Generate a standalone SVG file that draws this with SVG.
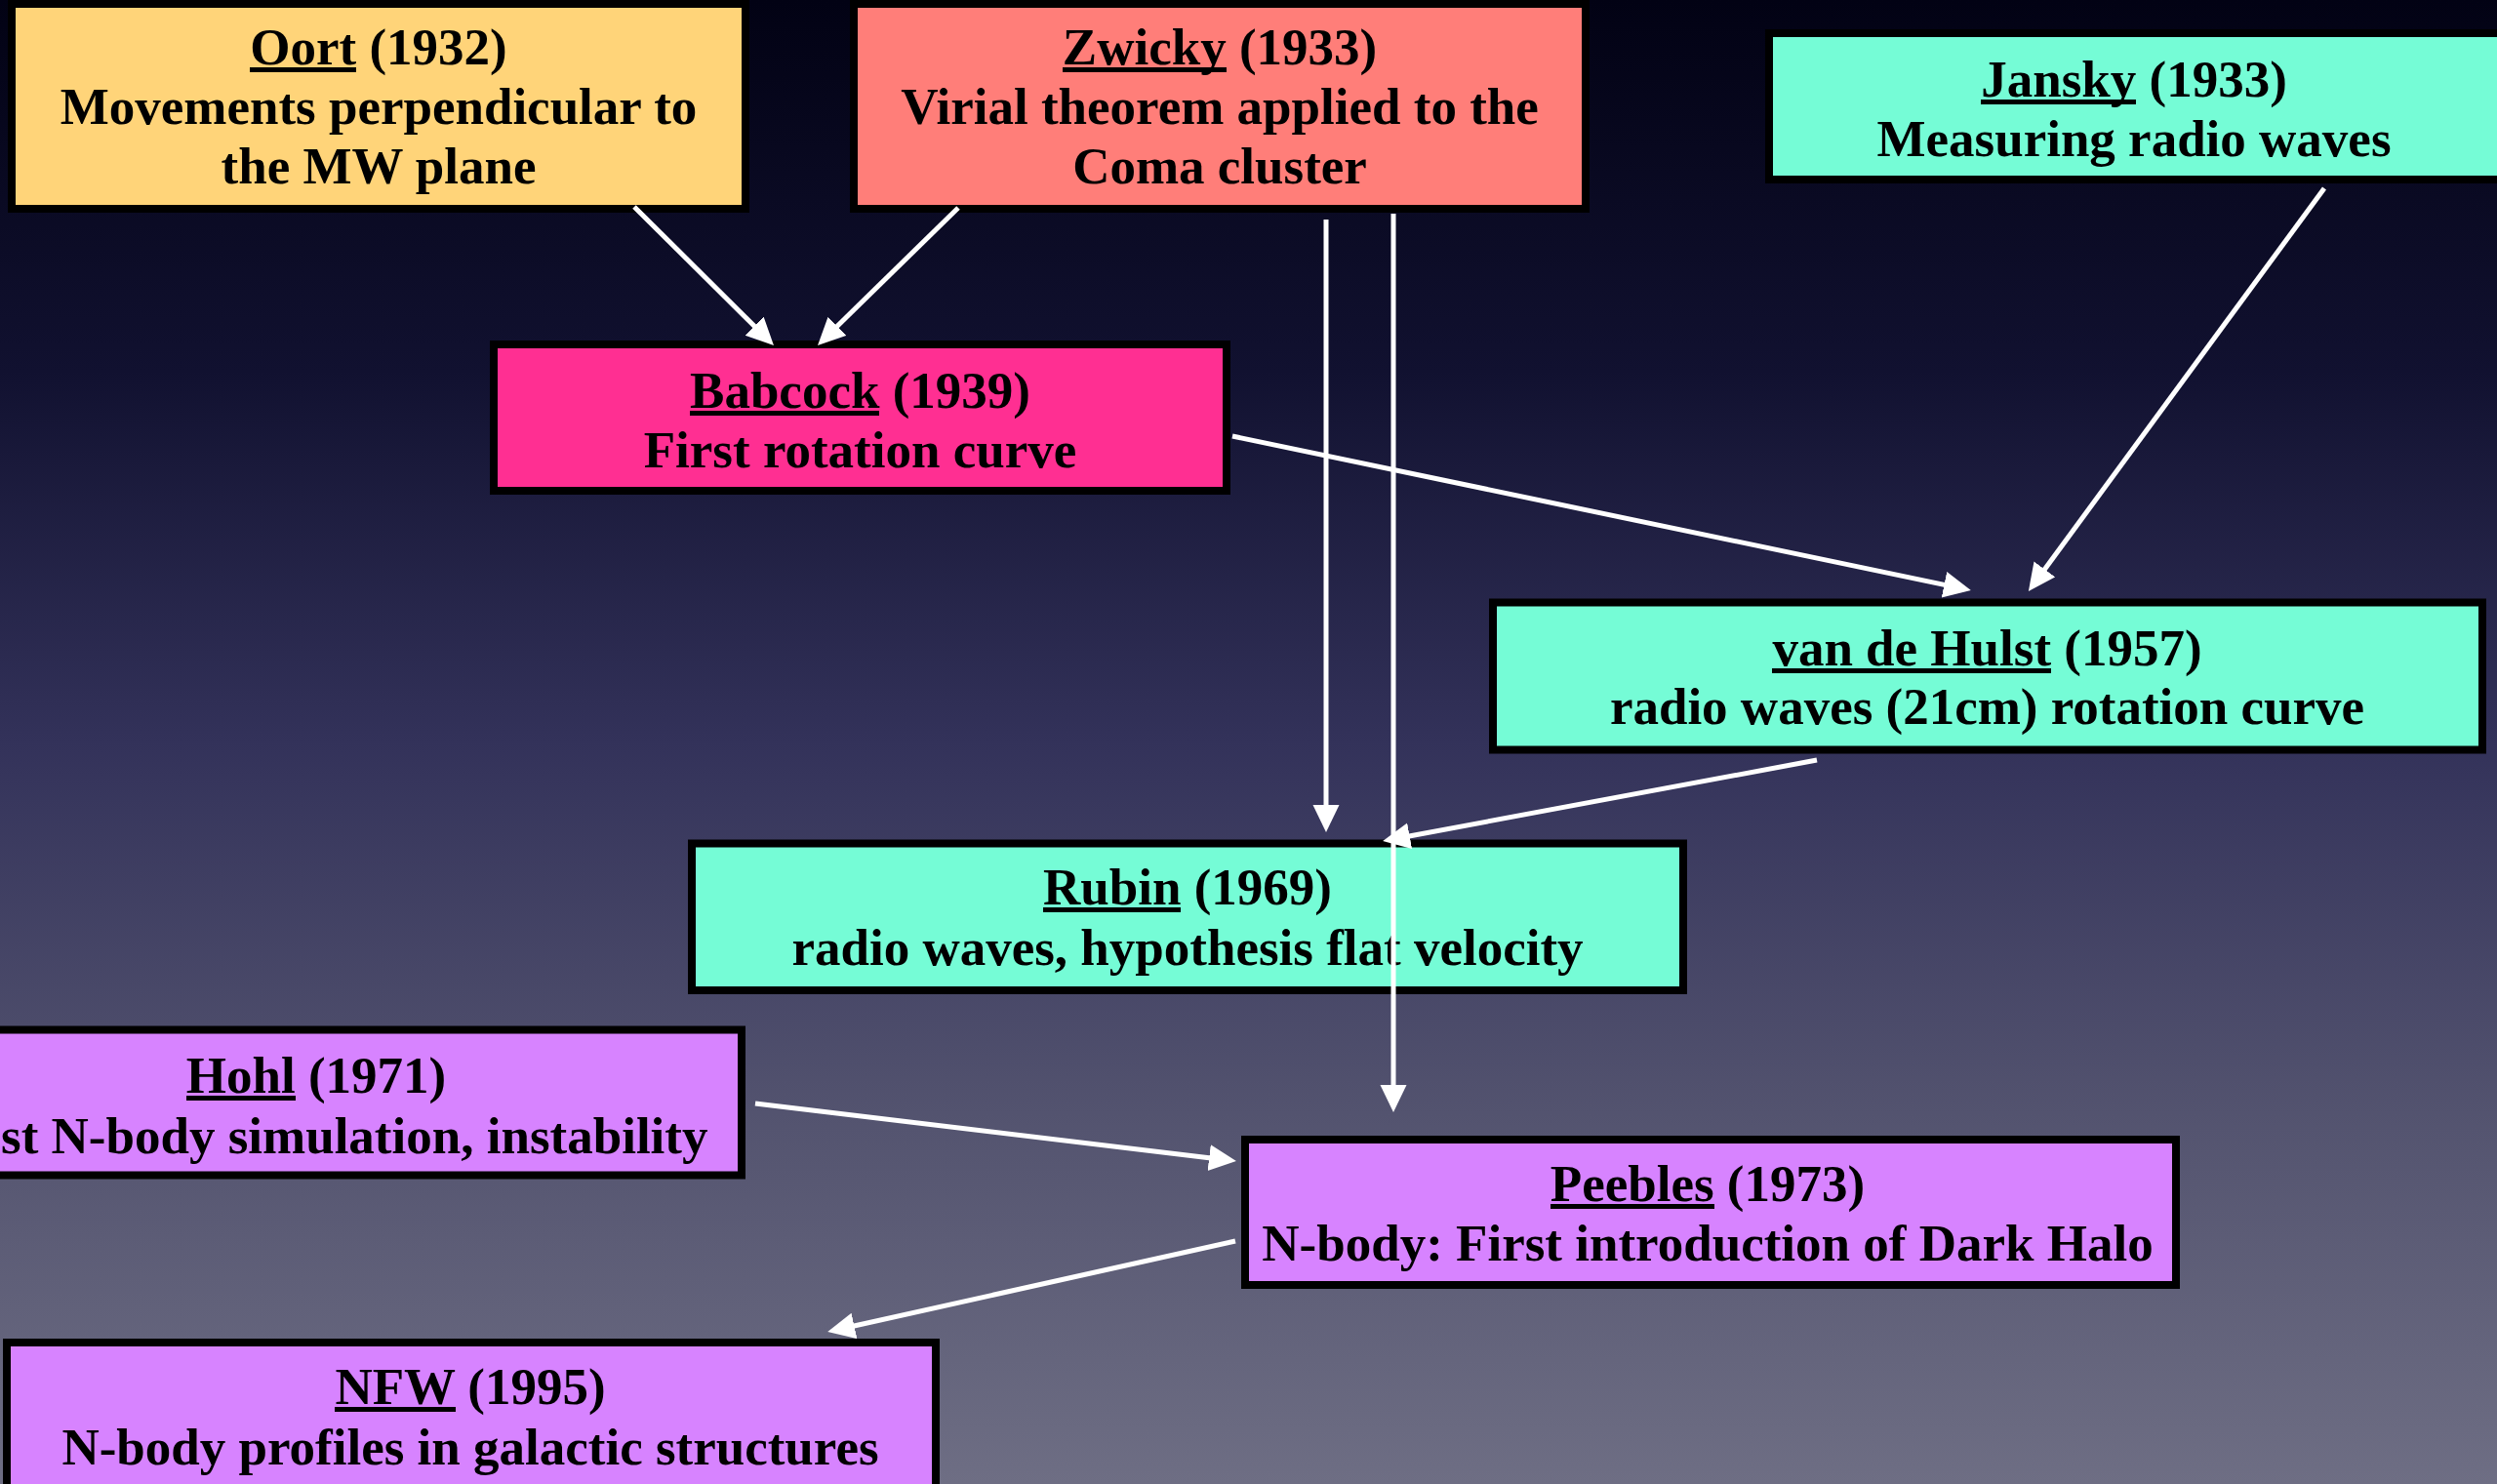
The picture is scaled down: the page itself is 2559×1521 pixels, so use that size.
<svg xmlns="http://www.w3.org/2000/svg" width="2559" height="1521" viewBox="0 0 2559 1521">
<defs>
<linearGradient id="bg" x1="0" y1="0" x2="0" y2="1">
<stop offset="0" stop-color="#020214"/>
<stop offset="0.25" stop-color="#111130"/>
<stop offset="0.5" stop-color="#33325a"/>
<stop offset="0.75" stop-color="#53536f"/>
<stop offset="1" stop-color="#6e6e84"/>
</linearGradient>
<marker id="ah" markerUnits="userSpaceOnUse" markerWidth="32" markerHeight="32" refX="21" refY="13.5" orient="auto">
<path d="M0,0 L28,13.5 L0,27 z" fill="#ffffff"/>
</marker>
<style>
.box{stroke:#000;stroke-width:8}
.t{font-family:"Liberation Serif","Times New Roman",serif;font-weight:bold;font-size:53px;fill:#000;text-anchor:middle}
.ul{fill:#000}
.c{stroke:#fff;stroke-width:5;fill:none;marker-end:url(#ah)}
.orange{fill:#FFD479}.salmon{fill:#FF7E79}.aqua{fill:#75FCD6}.pink{fill:#FF2F92}.lav{fill:#D783FF}
</style>
</defs>
<rect x="0" y="0" width="2559" height="1521" fill="url(#bg)"/>

<g id="oort">
<rect class="box orange" x="12" y="4" width="752" height="210"/>
<text class="t" x="388" y="66">Oort (1932)</text>
<rect class="ul" x="256" y="69" width="109" height="5"/>
<text class="t" x="388" y="127">Movements perpendicular to</text>
<text class="t" x="388" y="188">the MW plane</text>
</g>

<g id="zwicky">
<rect class="box salmon" x="875" y="4" width="750" height="210"/>
<text class="t" x="1250" y="66">Zwicky (1933)</text>
<rect class="ul" x="1089" y="69" width="168" height="5"/>
<text class="t" x="1250" y="127">Virial theorem applied to the</text>
<text class="t" x="1250" y="188">Coma cluster</text>
</g>

<g id="jansky">
<rect class="box aqua" x="1813" y="34" width="750" height="150"/>
<text class="t" x="2187" y="99">Jansky (1933)</text>
<rect class="ul" x="2030" y="102" width="159" height="5"/>
<text class="t" x="2187" y="160">Measuring radio waves</text>
</g>

<g id="babcock">
<rect class="box pink" x="506" y="353" width="751" height="150"/>
<text class="t" x="881.5" y="418">Babcock (1939)</text>
<rect class="ul" x="707" y="421" width="194" height="5"/>
<text class="t" x="881.5" y="479">First rotation curve</text>
</g>

<g id="vandehulst">
<rect class="box aqua" x="1530" y="617.5" width="1014" height="151"/>
<text class="t" x="2036.5" y="682">van de Hulst (1957)</text>
<rect class="ul" x="1816" y="685" width="286" height="5"/>
<text class="t" x="2036.5" y="742">radio waves (21cm) rotation curve</text>
</g>

<g id="rubin">
<rect class="box aqua" x="709" y="864.5" width="1016" height="150.5"/>
<text class="t" x="1217" y="927">Rubin (1969)</text>
<rect class="ul" x="1069" y="930" width="141" height="5"/>
<text class="t" x="1217" y="989">radio waves, hypothesis flat velocity</text>
</g>

<g id="hohl">
<rect class="box lav" x="-10" y="1055.5" width="770" height="149"/>
<text class="t" x="324" y="1120">Hohl (1971)</text>
<rect class="ul" x="191" y="1123" width="112" height="5"/>
<text class="t" x="1" y="1182" style="text-anchor:start">st N-body simulation, instability</text>
</g>

<g id="peebles">
<rect class="box lav" x="1276" y="1168" width="954" height="149"/>
<text class="t" x="1750" y="1231">Peebles (1973)</text>
<rect class="ul" x="1589" y="1234" width="168" height="5"/>
<text class="t" x="1750" y="1292">N-body: First introduction of Dark Halo</text>
</g>

<g id="nfw">
<rect class="box lav" x="7" y="1376" width="952" height="200"/>
<text class="t" x="482" y="1439">NFW (1995)</text>
<rect class="ul" x="343" y="1442" width="124" height="5"/>
<text class="t" x="482" y="1501">N-body profiles in galactic structures</text>
</g>

<g id="connectors">
<line class="c" x1="650" y1="212" x2="788" y2="349"/>
<line class="c" x1="982" y1="213" x2="843" y2="349"/>
<line class="c" x1="1359" y1="225" x2="1359" y2="846"/>
<line class="c" x1="1428" y1="219" x2="1428" y2="1133"/>
<line class="c" x1="1263" y1="447" x2="2013" y2="603.6"/>
<line class="c" x1="2382" y1="193" x2="2083" y2="600.4"/>
<line class="c" x1="1862" y1="779" x2="1424" y2="860.7"/>
<line class="c" x1="774" y1="1131" x2="1260" y2="1189.2"/>
<line class="c" x1="1266" y1="1272" x2="855" y2="1363.5"/>
</g>
</svg>
